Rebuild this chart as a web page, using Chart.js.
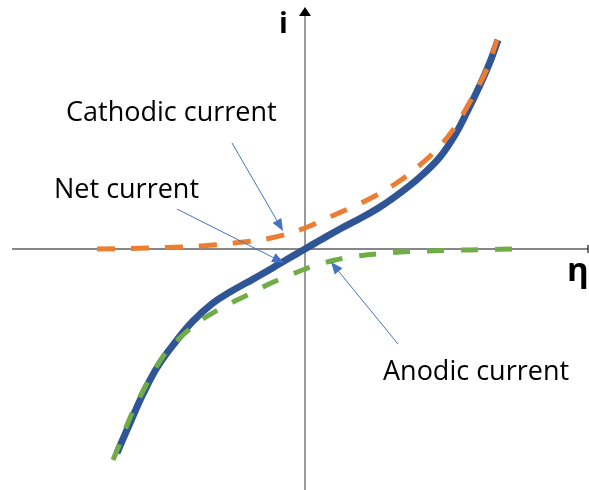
<!DOCTYPE html>
<html>
<head>
<meta charset="utf-8">
<script src="https://cdn.jsdelivr.net/npm/chart.js@4.4.1/dist/chart.umd.min.js"></script>
<style>
  html, body { margin: 0; padding: 0; background: #ffffff; }
  #wrap { width: 589px; height: 490px; position: relative; }
</style>
</head>
<body>
<div id="wrap"><canvas id="c" width="589" height="490"></canvas></div>
<script>
// Overpotential (eta) and current (i), arbitrary units
const cathodicEta = [-2.08, -1.74, -1.40, -1.05, -0.71, -0.34, 0.00, 0.20, 0.45, 0.70, 0.93, 1.15, 1.35, 1.50, 1.62, 1.73, 1.83, 1.92];
const cathodicI   = [0.00, 0.005, 0.015, 0.03, 0.06, 0.11, 0.21, 0.30, 0.41, 0.53, 0.67, 0.84, 1.03, 1.22, 1.42, 1.62, 1.83, 2.09];

const anodicEta = [-1.92, -1.85, -1.78, -1.70, -1.60, -1.50, -1.37, -1.22, -1.05, -0.87, -0.70, -0.53, -0.38, -0.22, 0.00, 0.10, 0.28, 0.45, 0.62, 0.78, 0.95, 1.13, 1.48, 1.83, 2.07];
const anodicI   = [-2.11, -1.94, -1.76, -1.58, -1.38, -1.20, -1.01, -0.86, -0.72, -0.61, -0.52, -0.44, -0.36, -0.29, -0.20, -0.165, -0.115, -0.08, -0.058, -0.045, -0.03, -0.022, -0.012, -0.006, 0.00];

const netEta = [-1.88, -1.75, -1.62, -1.47, -1.28, -1.12, -0.92, -0.75, -0.58, -0.42, -0.25, -0.08, 0.00, 0.15, 0.35, 0.55, 0.75, 0.95, 1.15, 1.35, 1.50, 1.62, 1.75, 1.85, 1.93];
const netI   = [-2.04, -1.74, -1.45, -1.17, -0.91, -0.72, -0.54, -0.43, -0.335, -0.245, -0.145, -0.046, 0.00, 0.087, 0.20, 0.305, 0.42, 0.56, 0.72, 0.92, 1.14, 1.37, 1.64, 1.87, 2.09];

const axisLabels = { x: 'η', y: 'i' };
const seriesNames = ['Net current', 'Cathodic current', 'Anodic current'];

const pts = (xs, ys) => xs.map((x, k) => ({ x: x, y: ys[k] }));

// Draws the crossing axes underneath the curves
const axesPlugin = {
  id: 'crossAxes',
  beforeDatasetsDraw(chart) {
    const { ctx, scales: { x, y } } = chart;
    const x0 = x.getPixelForValue(0);
    const y0 = y.getPixelForValue(0);
    ctx.save();
    // horizontal axis
    ctx.strokeStyle = '#111111';
    ctx.lineWidth = 1.2;
    ctx.beginPath();
    ctx.moveTo(12, y0);
    ctx.lineTo(588, y0);
    ctx.stroke();
    ctx.beginPath();
    ctx.moveTo(588, y0 - 4);
    ctx.lineTo(588, y0 + 4);
    ctx.stroke();
    // vertical axis
    ctx.strokeStyle = '#9a9a9a';
    ctx.lineWidth = 2;
    ctx.beginPath();
    ctx.moveTo(x0, 490);
    ctx.lineTo(x0, 14);
    ctx.stroke();
    ctx.fillStyle = '#000000';
    ctx.beginPath();
    ctx.moveTo(x0, 7);
    ctx.lineTo(x0 - 6, 16);
    ctx.lineTo(x0 + 6, 16);
    ctx.closePath();
    ctx.fill();
    ctx.restore();
  }
};

// Straight callout line ending in a filled arrowhead
function arrow(ctx, x1, y1, x2, y2) {
  const ang = Math.atan2(y2 - y1, x2 - x1);
  const len = 12, half = 5;
  ctx.beginPath();
  ctx.moveTo(x1, y1);
  ctx.lineTo(x2 - len * Math.cos(ang), y2 - len * Math.sin(ang));
  ctx.stroke();
  ctx.beginPath();
  ctx.moveTo(x2, y2);
  ctx.lineTo(x2 - len * Math.cos(ang) + half * Math.sin(ang), y2 - len * Math.sin(ang) - half * Math.cos(ang));
  ctx.lineTo(x2 - len * Math.cos(ang) - half * Math.sin(ang), y2 - len * Math.sin(ang) + half * Math.cos(ang));
  ctx.closePath();
  ctx.fill();
}

// Axis titles and callout labels
const labelPlugin = {
  id: 'callouts',
  afterDatasetsDraw(chart) {
    const { ctx } = chart;
    ctx.save();
    ctx.fillStyle = '#000000';
    ctx.textBaseline = 'alphabetic';
    ctx.font = 'bold 29px "Open Sans", sans-serif';
    ctx.fillText(axisLabels.y, 279, 33);
    ctx.font = 'bold 33px "Open Sans", sans-serif';
    ctx.fillText(axisLabels.x, 567, 281);

    ctx.font = '27px "Open Sans", sans-serif';
    ctx.fillText(seriesNames[1], 66, 121);
    ctx.fillText(seriesNames[0], 54, 198);
    ctx.fillText(seriesNames[2], 383, 380);

    ctx.strokeStyle = '#4472C4';
    ctx.fillStyle = '#4472C4';
    ctx.lineWidth = 1;
    arrow(ctx, 232, 143, 283, 231);
    arrow(ctx, 177, 209, 284, 263);
    arrow(ctx, 398, 344, 331, 262);
    ctx.restore();
  }
};

new Chart(document.getElementById('c'), {
  type: 'scatter',
  data: {
    datasets: [
      {
        label: seriesNames[0],
        data: pts(netEta, netI),
        showLine: true,
        borderColor: '#2F5597',
        borderWidth: 7,
        pointRadius: 0,
        tension: 0.4,
        order: 3
      },
      {
        label: seriesNames[1],
        data: pts(cathodicEta, cathodicI),
        showLine: true,
        borderColor: '#ED7D31',
        borderWidth: 5,
        borderDash: [18, 16],
        borderCapStyle: 'butt',
        pointRadius: 0,
        tension: 0.4,
        order: 2
      },
      {
        label: seriesNames[2],
        data: pts(anodicEta, anodicI),
        showLine: true,
        borderColor: '#70AD47',
        borderWidth: 5,
        borderDash: [17, 17],
        borderCapStyle: 'butt',
        pointRadius: 0,
        tension: 0.4,
        order: 1
      }
    ]
  },
  options: {
    responsive: false,
    animation: false,
    layout: { padding: 0 },
    plugins: { legend: { display: false }, tooltip: { enabled: false } },
    scales: {
      x: { type: 'linear', min: -3.05, max: 2.84, display: false },
      y: { type: 'linear', min: -2.41, max: 2.49, display: false }
    }
  },
  plugins: [axesPlugin, labelPlugin]
});
</script>
</body>
</html>
